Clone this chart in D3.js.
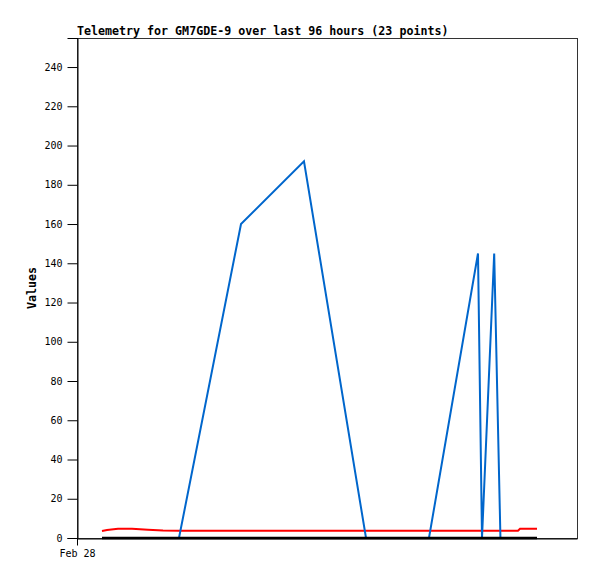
<!DOCTYPE html>
<html><head><meta charset="utf-8">
<script src="https://cdn.jsdelivr.net/npm/d3@7"></script>
<style>body{margin:0;background:#fff}svg{display:block}</style>
</head><body>
<script>
// hours since Feb 28 00:00
const hours = [4.8,5.76,7.87,10.56,13.63,16.51,19.58,31.49,43.58,55.49,59.14,61.63,63.94,67.58,76.99,77.76,80.1,81.3,83.14,84.67,85.06,86.59,88.32];
const blueSeries = [0,0,0,0,0,0,0,160,192,0,0,0,0,0,145,0,145,0,0,0,0,0,0];
const redSeries = [3.6,4.1,4.7,4.7,4.2,3.8,3.7,3.7,3.7,3.7,3.7,3.7,3.7,3.7,3.7,3.7,3.7,3.7,3.7,3.7,4.7,4.7,4.7];
const blackSeries = [0,0,0,0,0,0,0,0,0,0,0,0,0,0,0,0,0,0,0,0,0,0,0];
const yTicks = [0,20,40,60,80,100,120,140,160,180,200,220,240];
const xTickLabels = [{h:0,label:"Feb 28"}];
const title = "Telemetry for GM7GDE-9 over last 96 hours (23 points)";

const W=597,H=579, L=77, R=577, T=38, B=538;
const svg=d3.select("body").append("svg").attr("width",W).attr("height",H);
const x=d3.scaleLinear().domain([0,96]).range([L,R]);
const y=d3.scaleLinear().domain([0,254.8]).range([B,T]);

svg.append("rect").attr("x",L+0.5).attr("y",T+0.5).attr("width",R-L).attr("height",B-T)
  .attr("fill","none").attr("stroke","#333").attr("stroke-width",1);

const line=d3.line().x((d,i)=>x(hours[i])).y(d=>y(d));
function draw(series,color,w){
  svg.append("path").datum(series).attr("d",line).attr("fill","none")
    .attr("stroke",color).attr("stroke-width",w).attr("stroke-linejoin","miter");
}
draw(redSeries,"#ff0000",2);
draw(blueSeries,"#0066cc",2);
draw(blackSeries,"#000000",2.5);

const ya=svg.append("g").attr("transform",`translate(${L+0.5},0)`)
  .call(d3.axisLeft(y).tickValues(yTicks).tickSize(10).tickPadding(5));
ya.select(".domain").attr("stroke","#000");
ya.selectAll("text").attr("font-family","DejaVu Sans Mono").attr("font-size","10px").attr("fill","#000");

const xa=svg.append("g").attr("transform",`translate(0,${B+0.5})`)
  .call(d3.axisBottom(x).tickValues(xTickLabels.map(d=>d.h)).tickFormat((d,i)=>xTickLabels[i].label).tickSize(7).tickPadding(4).tickSizeOuter(0));
xa.select(".domain").attr("stroke","#000");
xa.selectAll("text").attr("font-family","DejaVu Sans Mono").attr("font-size","10px").attr("fill","#000");

svg.append("text").attr("x",L).attr("y",35).text(title)
  .attr("font-family","DejaVu Sans Mono").attr("font-weight","bold").attr("font-size","11.65px");
svg.append("text").attr("transform",`translate(36,288) rotate(-90)`).attr("text-anchor","middle").text("Values")
  .attr("font-family","DejaVu Sans Mono").attr("font-weight","bold").attr("font-size","11.65px");
</script>
</body></html>
